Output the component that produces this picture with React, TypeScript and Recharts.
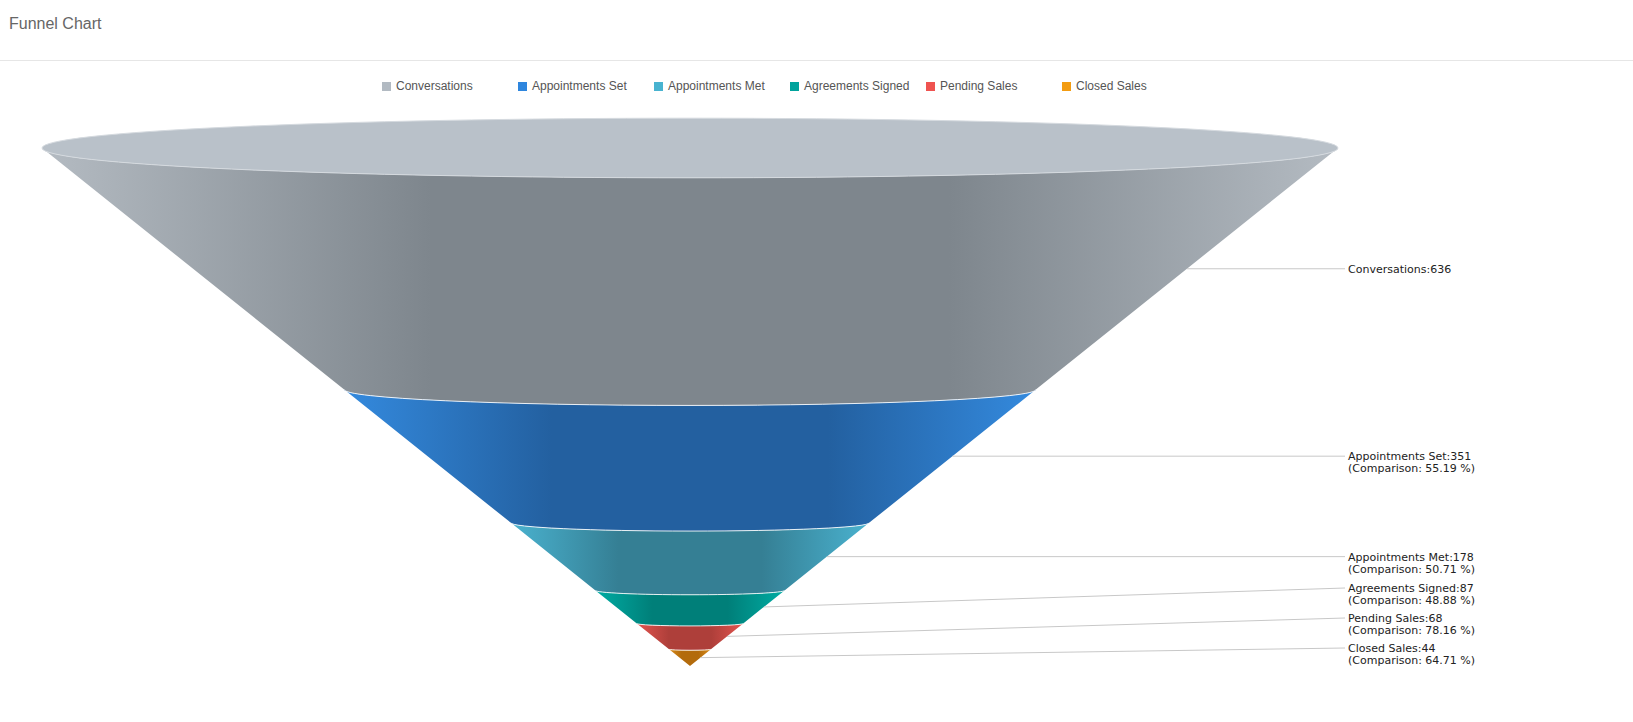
import { BarChart, Bar, XAxis, YAxis } from 'recharts';

const stages = ['Conversations', 'Appointments Set', 'Appointments Met', 'Agreements Signed', 'Pending Sales', 'Closed Sales'];
const values = [636, 351, 178, 87, 68, 44];
const comparisons = [null, '55.19', '50.71', '48.88', '78.16', '64.71'];
const legendColors = ['#b2bac2', '#2e86de', '#48b3d0', '#00a39c', '#ef5350', '#f39c12'];
const edgeColors = ['#b4bbc2', '#348ade', '#4ab2cf', '#00aca3', '#e2544f', '#d88a18'];
const centerColors = ['#7e868d', '#2360a0', '#357f94', '#007f79', '#ae3f3a', '#b36b0c'];

const total = values.reduce((a, b) => a + b, 0);
const row: Record<string, number | string> = { name: 'funnel' };
stages.forEach((s, i) => (row[s] = values[i]));
const data = [row];

const PLOT_TOP = 148;
const PLOT_BOTTOM = 666;
const RADIUS = 648;
const TILT = 0.046;
const LABEL_X = 1348;
const LABEL_MAX_Y = 648;
const LABEL_GAP = 30;

const halfWidth = (y: number) => ((PLOT_BOTTOM - y) / (PLOT_BOTTOM - PLOT_TOP)) * RADIUS;

const ConeSlice = (props: any) => {
  const { x, y, width, height, si } = props;
  const cx = x + width / 2;
  const yt = Math.min(y, y + height);
  const yb = Math.max(y, y + height);
  const hwT = halfWidth(yt);
  const hwB = halfWidth(yb);
  const ryT = hwT * TILT;
  const ryB = hwB * TILT;
  const d = `M${cx - hwT},${yt} A${hwT} ${ryT} 0 0 0 ${cx + hwT},${yt} L${cx + hwB},${yb} A${Math.max(hwB, 0.01)} ${Math.max(ryB, 0.01)} 0 0 1 ${cx - hwB},${yb} Z`;
  const mid = (yt + yb) / 2;
  const startX = cx + halfWidth(mid);
  const labelY = Math.min(mid, LABEL_MAX_Y - LABEL_GAP * (stages.length - 1 - si));
  const id = `grad-${si}`;
  return (
    <g>
      <defs>
        <linearGradient id={id} x1="0" y1="0" x2="1" y2="0">
          <stop offset="0" stopColor={edgeColors[si]} />
          <stop offset="0.3" stopColor={centerColors[si]} />
          <stop offset="0.5" stopColor={centerColors[si]} />
          <stop offset="0.7" stopColor={centerColors[si]} />
          <stop offset="1" stopColor={edgeColors[si]} />
        </linearGradient>
      </defs>
      <path d={d} fill={`url(#${id})`} />
      {si === 0 ? (
        <ellipse cx={cx} cy={yt} rx={hwT} ry={ryT} fill="#b9c1c9" stroke="#d5dadf" strokeWidth={1} />
      ) : (
        <path d={`M${cx - hwT},${yt} A${hwT} ${ryT} 0 0 0 ${cx + hwT},${yt}`} fill="none" stroke="rgba(255,255,255,0.85)" strokeWidth={1} />
      )}
      <line x1={startX} y1={mid} x2={LABEL_X - 3} y2={labelY} stroke="#c8c8c8" strokeWidth={1} />
      <text x={LABEL_X} y={labelY + 4} fontSize={11} fontFamily="DejaVu Sans, sans-serif" fill="#222">
        {`${stages[si]}:${values[si]}`}
      </text>
      {comparisons[si] && (
        <text x={LABEL_X} y={labelY + 16} fontSize={11} fontFamily="DejaVu Sans, sans-serif" fill="#222">
          {`(Comparison: ${comparisons[si]} %)`}
        </text>
      )}
    </g>
  );
};

export default function App() {
  return (
    <div style={{ position: 'absolute', top: 0, left: 0, width: 1633, height: 722, background: '#fff', fontFamily: 'Liberation Sans, Arial, sans-serif' }}>
      <div style={{ position: 'absolute', left: 9, top: 15, fontSize: 16, color: '#666' }}>Funnel Chart</div>
      <div style={{ position: 'absolute', left: 0, top: 60, width: 1633, height: 1, background: '#e6e6e6' }} />
      <div style={{ position: 'absolute', left: 382, top: 79, display: 'flex' }}>
        {stages.map((s, i) => (
          <div key={s} style={{ width: 136, display: 'flex', alignItems: 'center', fontSize: 12, color: '#555' }}>
            <span style={{ width: 9, height: 9, background: legendColors[i], marginRight: 5, display: 'inline-block' }} />
            {s}
          </div>
        ))}
      </div>
      <div style={{ position: 'absolute', top: 0, left: 0 }}>
        <BarChart width={1633} height={722} data={data} margin={{ top: PLOT_TOP, bottom: 722 - PLOT_BOTTOM, left: 0, right: 253 }}>
          <XAxis dataKey="name" hide />
          <YAxis hide reversed domain={[0, total]} />
          {stages.map((s, i) => (
            <Bar key={s} dataKey={s} stackId="f" isAnimationActive={false} shape={(p: any) => <ConeSlice {...p} si={i} />} />
          ))}
        </BarChart>
      </div>
    </div>
  );
}
